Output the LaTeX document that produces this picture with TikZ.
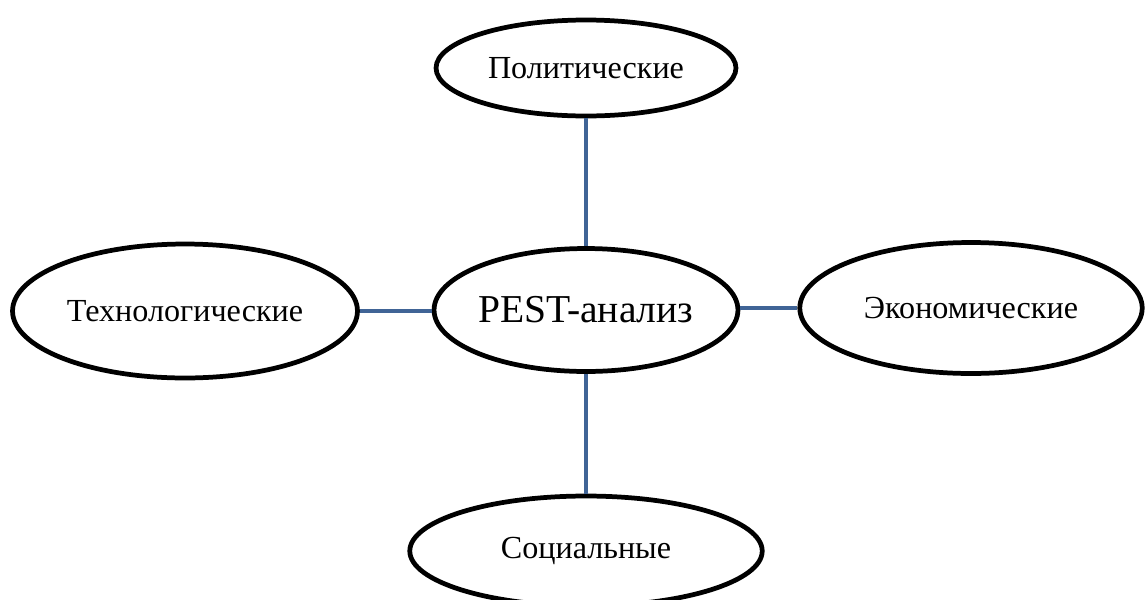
\documentclass[tikz,border=0pt]{standalone}
\usepackage{fontspec}
\setmainfont{Liberation Serif}
\usetikzlibrary{shapes.geometric}
\definecolor{linkblue}{RGB}{64,100,150}
\begin{document}
\begin{tikzpicture}[x=0.02cm,y=-0.02cm,
    factor/.style={ellipse, draw=black, line width=2.7pt, inner sep=0pt, font=\fontsize{18.3}{20}\selectfont},
    link/.style={draw=linkblue, line width=2.4pt}]
      \useasboundingbox (0,0) rectangle (1145,599);
      \node[factor, minimum width=6.05cm, minimum height=2.46cm, font=\fontsize{22.5}{24}\selectfont] (pest) at (586,310) {PEST-анализ};
      \node[factor, minimum width=6.0cm, minimum height=1.92cm] (pol) at (586,68) {Политические};
      \node[factor, minimum width=6.9cm, minimum height=2.68cm] (tech) at (185,311) {Технологические};
      \node[factor, minimum width=6.85cm, minimum height=2.62cm] (econ) at (971,308) {Экономические};
      \node[factor, minimum width=7.05cm, minimum height=2.2cm] (soc) at (586,551) {Социальные};
      \draw[link] (pol) -- (pest);% top
      \draw[link] (pest) -- (soc);% bottom
      \draw[link] (tech.east) -- (tech.east -| pest.west);% left
      \draw[link] (econ.west) -- (econ.west -| pest.east);% right
    \end{tikzpicture}
\end{document}
